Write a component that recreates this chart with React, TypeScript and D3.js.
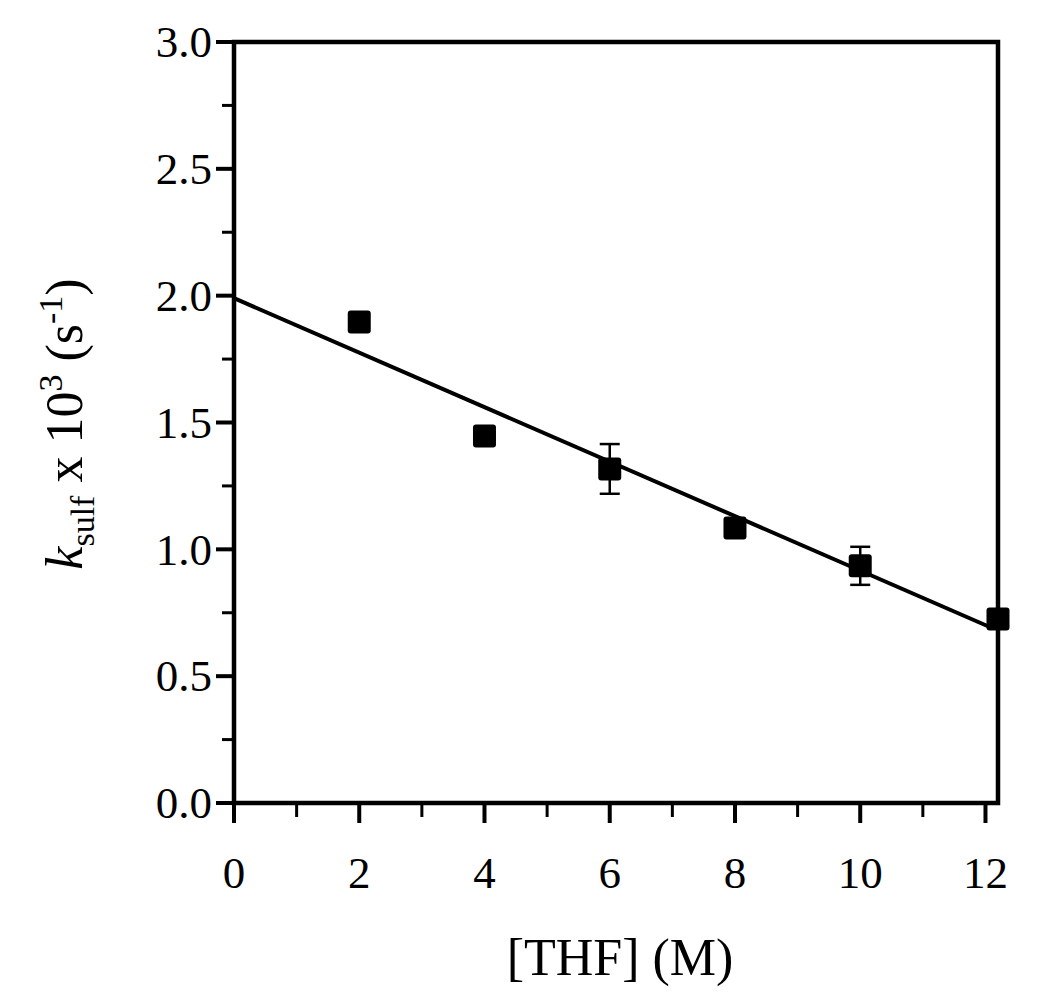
import React, { useEffect, useRef } from "react";
import * as d3 from "d3";

// THF concentration (M) and rate constants (x 10^3 s^-1)
const thf = [2, 4, 6, 8, 10, 12.2];
const ksulf = [1.896, 1.447, 1.317, 1.084, 0.935, 0.725];
const kErr = [0, 0, 0.098, 0, 0.075, 0];

// linear fit
const fitIntercept = 1.99;
const fitSlope = -0.1074;
const fitRange = [0, 12.05];

const xTicks = [0, 2, 4, 6, 8, 10, 12];
const xMinor = [1, 3, 5, 7, 9, 11];
const yTicks = [0, 0.5, 1.0, 1.5, 2.0, 2.5, 3.0];
const yMinor = [0.25, 0.75, 1.25, 1.75, 2.25, 2.75];

const W = 1050;
const H = 1001;
const FONT = "'Liberation Serif', 'Times New Roman', serif";

export default function App() {
  const ref = useRef<SVGSVGElement>(null);

  useEffect(() => {
    const svg = d3.select(ref.current);
    svg.selectAll("*").remove();

    const left = 234;
    const right = 998;
    const top = 42;
    const bottom = 803;

    const x = d3.scaleLinear().domain([0, 12.2]).range([left, right]);
    const y = d3.scaleLinear().domain([0, 3]).range([bottom, top]);

    const g = svg.append("g");

    // ticks
    g.selectAll(".ytick")
      .data(yTicks)
      .enter()
      .append("line")
      .attr("x1", left - 18)
      .attr("x2", left)
      .attr("y1", (d) => y(d))
      .attr("y2", (d) => y(d))
      .attr("stroke", "#000")
      .attr("stroke-width", 4);
    g.selectAll(".yminor")
      .data(yMinor)
      .enter()
      .append("line")
      .attr("x1", left - 12)
      .attr("x2", left)
      .attr("y1", (d) => y(d))
      .attr("y2", (d) => y(d))
      .attr("stroke", "#000")
      .attr("stroke-width", 3);
    g.selectAll(".xtick")
      .data(xTicks)
      .enter()
      .append("line")
      .attr("x1", (d) => x(d))
      .attr("x2", (d) => x(d))
      .attr("y1", bottom)
      .attr("y2", bottom + 20)
      .attr("stroke", "#000")
      .attr("stroke-width", 4);
    g.selectAll(".xminor")
      .data(xMinor)
      .enter()
      .append("line")
      .attr("x1", (d) => x(d))
      .attr("x2", (d) => x(d))
      .attr("y1", bottom)
      .attr("y2", bottom + 14)
      .attr("stroke", "#000")
      .attr("stroke-width", 3);

    // frame
    g.append("rect")
      .attr("x", left)
      .attr("y", top)
      .attr("width", right - left)
      .attr("height", bottom - top)
      .attr("fill", "none")
      .attr("stroke", "#000")
      .attr("stroke-width", 4.5);

    // tick labels
    g.selectAll(".ylab")
      .data(yTicks)
      .enter()
      .append("text")
      .attr("x", left - 22)
      .attr("y", (d) => y(d))
      .attr("dy", "0.34em")
      .attr("text-anchor", "end")
      .style("font-family", FONT)
      .style("font-size", "45px")
      .text((d) => d3.format(".1f")(d));
    g.selectAll(".xlab")
      .data(xTicks)
      .enter()
      .append("text")
      .attr("x", (d) => x(d))
      .attr("y", 888)
      .attr("text-anchor", "middle")
      .style("font-family", FONT)
      .style("font-size", "45px")
      .text((d) => String(d));

    // fit line
    g.append("line")
      .attr("x1", x(fitRange[0]))
      .attr("x2", x(fitRange[1]))
      .attr("y1", y(fitIntercept + fitSlope * fitRange[0]))
      .attr("y2", y(fitIntercept + fitSlope * fitRange[1]))
      .attr("stroke", "#000")
      .attr("stroke-width", 4);

    const pts = thf.map((t, i) => ({ t, k: ksulf[i], e: kErr[i] }));

    // error bars
    const eb = g
      .selectAll(".err")
      .data(pts.filter((p) => p.e > 0))
      .enter()
      .append("g")
      .attr("stroke", "#000")
      .attr("stroke-width", 2.5);
    eb.append("line")
      .attr("x1", (d) => x(d.t))
      .attr("x2", (d) => x(d.t))
      .attr("y1", (d) => y(d.k + d.e))
      .attr("y2", (d) => y(d.k - d.e));
    eb.append("line")
      .attr("x1", (d) => x(d.t) - 10)
      .attr("x2", (d) => x(d.t) + 10)
      .attr("y1", (d) => y(d.k + d.e))
      .attr("y2", (d) => y(d.k + d.e));
    eb.append("line")
      .attr("x1", (d) => x(d.t) - 10)
      .attr("x2", (d) => x(d.t) + 10)
      .attr("y1", (d) => y(d.k - d.e))
      .attr("y2", (d) => y(d.k - d.e));

    // markers
    const s = 23;
    g.selectAll(".pt")
      .data(pts)
      .enter()
      .append("rect")
      .attr("x", (d) => x(d.t) - s / 2)
      .attr("y", (d) => y(d.k) - s / 2)
      .attr("width", s)
      .attr("height", s)
      .attr("rx", 3)
      .attr("fill", "#000");

    // x title
    g.append("text")
      .attr("x", 620)
      .attr("y", 975)
      .attr("text-anchor", "middle")
      .style("font-family", FONT)
      .style("font-size", "52px")
      .text("[THF] (M)");

    // y title
    const yt = g
      .append("text")
      .attr("transform", `translate(82, 424) rotate(-90)`)
      .attr("text-anchor", "middle")
      .style("font-family", FONT)
      .style("font-size", "52px");
    yt.append("tspan").style("font-style", "italic").text("k");
    yt.append("tspan").attr("dy", 12).style("font-size", "34px").text("sulf");
    yt.append("tspan").attr("dy", -12).text(" x 10");
    yt.append("tspan").attr("dy", -20).style("font-size", "34px").text("3");
    yt.append("tspan").attr("dy", 20).text(" (s");
    yt.append("tspan").attr("dy", -20).style("font-size", "34px").text("-1");
    yt.append("tspan").attr("dy", 20).text(")");
  }, []);

  return (
    <svg
      ref={ref}
      width={W}
      height={H}
      style={{ position: "absolute", left: 0, top: 0, background: "#fff" }}
    />
  );
}
